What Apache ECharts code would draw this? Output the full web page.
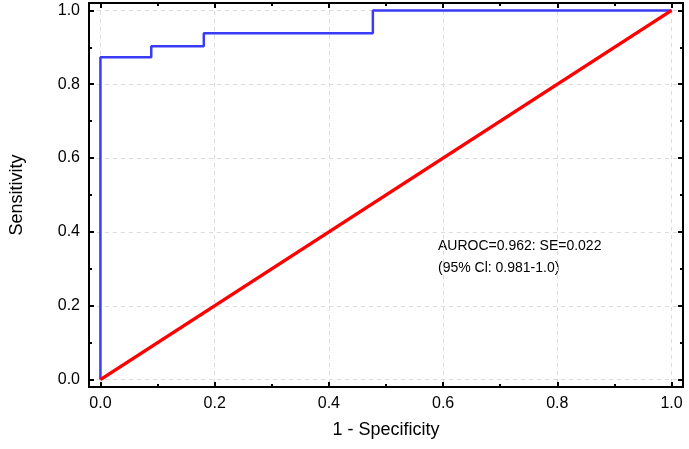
<!DOCTYPE html>
<html lang="en">
<head>
    <meta charset="UTF-8"/>
    <script src="https://cdn.jsdelivr.net/npm/echarts@6/dist/echarts.min.js"></script>
    <title>ROC</title>
    <style>
        html, body { margin: 0; padding: 0; background: #fff; }
        #roc { width: 689px; height: 449px; }
    </style>
</head>
<body>
<div id="roc"></div>
<script type="text/javascript">
    // ROC step curve (1 - specificity, sensitivity)
    var fpr = [0, 0, 0.089, 0.089, 0.181, 0.181, 0.477, 0.477, 1.0];
    var tpr = [0, 0.873, 0.873, 0.903, 0.903, 0.938, 0.938, 1.0, 1.0];
    // reference diagonal
    var diagX = [0, 1];
    var diagY = [0, 1];
    var majorTicks = [0, 0.2, 0.4, 0.6, 0.8, 1.0];
    var minorTicks = [0.1, 0.3, 0.5, 0.7, 0.9];
    var noteLines = ['AUROC=0.962: SE=0.022', '(95% Cl: 0.981-1.0)'];

    var FONT = '"Liberation Sans", Arial, sans-serif';

    function zip(a, b) {
        var out = [];
        for (var i = 0; i < a.length; i++) out.push([a[i], b[i]]);
        return out;
    }

    function makeAxis(pos, opts) {
        var ax = {
            type: 'value',
            position: pos,
            min: -0.02,
            max: 1.02,
            axisLine: { show: opts.line, onZero: false, lineStyle: { color: '#000', width: 2 } },
            axisTick: {
                show: true, inside: true, length: opts.major ? 5 : 3,
                customValues: opts.major ? majorTicks : minorTicks,
                lineStyle: { color: '#000', width: 2 }
            },
            axisLabel: { show: false },
            splitLine: { show: false }
        };
        if (opts.labels) {
            ax.axisLabel = {
                show: true, customValues: majorTicks, color: '#000',
                fontFamily: FONT, fontSize: 16, margin: 9,
                formatter: function (v) { return v.toFixed(1); }
            };
            ax.splitLine = { show: true, lineStyle: { color: '#dcdcdc', type: [4, 4], width: 1 } };
        }
        return ax;
    }

    var xAxes = [
        makeAxis('bottom', { line: true, major: true, labels: true }),
        makeAxis('top', { line: true, major: true }),
        makeAxis('bottom', { line: false, major: false }),
        makeAxis('top', { line: false, major: false })
    ];
    xAxes[0].name = '1 - Specificity';
    xAxes[0].nameLocation = 'middle';
    xAxes[0].nameGap = 34;
    xAxes[0].nameTextStyle = { color: '#000', fontFamily: FONT, fontSize: 18 };

    var yAxes = [
        makeAxis('left', { line: true, major: true, labels: true }),
        makeAxis('right', { line: true, major: true }),
        makeAxis('left', { line: false, major: false }),
        makeAxis('right', { line: false, major: false })
    ];
    yAxes[0].name = 'Sensitivity';
    yAxes[0].nameLocation = 'middle';
    yAxes[0].nameGap = 63;
    yAxes[0].nameTextStyle = { color: '#000', fontFamily: FONT, fontSize: 18 };

    var myChart = echarts.init(document.getElementById('roc'));
    var option = {
        animation: false,
        backgroundColor: '#fff',
        grid: { left: 87, right: 6, top: 3, bottom: 62 },
        xAxis: xAxes,
        yAxis: yAxes,
        graphic: [{
            type: 'text',
            left: 438,
            top: 235,
            style: {
                text: noteLines.join('\n'),
                font: '14px ' + FONT,
                fill: '#000',
                lineHeight: 22
            }
        }],
        series: [
            {
                type: 'line',
                data: zip(diagX, diagY),
                showSymbol: false,
                lineStyle: { color: '#ff0000', width: 3.5 },
                z: 3
            },
            {
                type: 'line',
                data: zip(fpr, tpr),
                showSymbol: false,
                lineStyle: { color: '#3a3cf5', width: 2.5 },
                z: 2
            }
        ]
    };
    myChart.setOption(option);
</script>
</body>
</html>
